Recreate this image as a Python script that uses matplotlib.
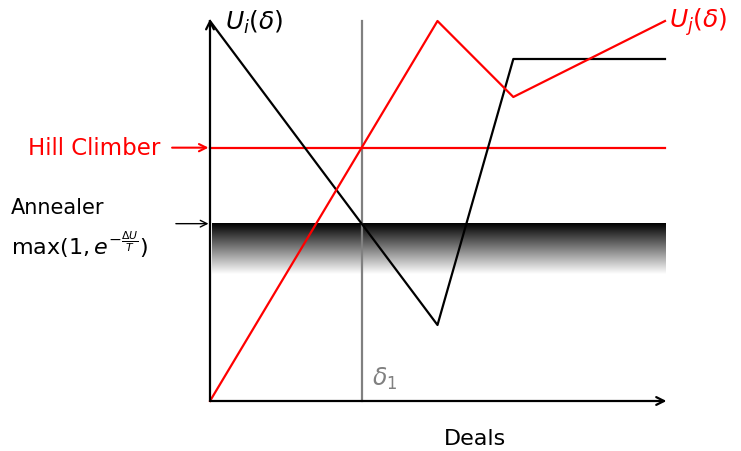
import numpy as np
import matplotlib.pyplot as plt

plt.rcParams['font.family'] = ['DejaVu Sans']
plt.rcParams['mathtext.fontset'] = 'dejavusans'

# utility curves over deals
x_i = [0, 3, 4, 6]
u_i = [10, 2, 9, 9]
x_j = [0, 3, 4, 6]
u_j = [0, 10, 8, 10]

delta1 = 2
hill_level = 20 / 3
anneal_top = 14 / 3
anneal_bottom = 3.34

fig = plt.figure(figsize=(7.41, 4.52), dpi=100)
ax = fig.add_axes([0, 0, 1, 1])
ux, uy = 75.83, 38.0
ax.set_xlim(-210 / ux, (741 - 210) / ux)
ax.set_ylim(-50 / uy, 402 / uy)
ax.axis('off')

# annealer acceptance band (black fading to white)
grad = np.linspace(0, 1, 256).reshape(-1, 1)
ax.imshow(grad, cmap='gray', aspect='auto', vmin=0, vmax=1,
          extent=[0.02, 6, anneal_bottom, anneal_top], origin='upper', zorder=1)

# axes arrows
arw = dict(arrowstyle='->', color='black', lw=1.6, mutation_scale=14, shrinkA=0, shrinkB=0)
ax.annotate('', xy=(6.02, 0), xytext=(0, 0), arrowprops=arw, zorder=5)
ax.annotate('', xy=(0, 10.05), xytext=(0, 0), arrowprops=arw, zorder=5)

lw = 1.6
ax.plot([delta1, delta1], [0, 10], color='#808080', lw=lw, zorder=2)
ax.plot([0, 6], [hill_level, hill_level], color='red', lw=lw, zorder=3)
ax.plot(x_i, u_i, color='black', lw=lw, zorder=4)
ax.plot(x_j, u_j, color='red', lw=lw, zorder=4)

ax.text(0.2, 10.0, r'$U_i(\delta)$', fontsize=18, ha='left', va='center')
ax.text(6.05, 10.0, r'$U_j(\delta)$', fontsize=18, ha='left', va='center', color='red')
ax.text(2.13, 0.6, r'$\delta_1$', fontsize=17, ha='left', va='center', color='#808080')
ax.text(3.49, -0.98, 'Deals', fontsize=16, ha='center', va='center')

ax.text(-0.65, hill_level, 'Hill Climber', fontsize=16.5, color='red', ha='right', va='center')
ax.annotate('', xy=(-0.02, hill_level), xytext=(-0.5, hill_level),
            arrowprops=dict(arrowstyle='->', color='red', lw=1.5, mutation_scale=13,
                            shrinkA=0, shrinkB=0))
ax.text(-2.63, 5.1, 'Annealer', fontsize=15, ha='left', va='center')
ax.text(-2.63, 4.15, r'max$(1, e^{-\frac{\Delta U}{T}})$', fontsize=16, ha='left', va='center')
ax.annotate('', xy=(-0.02, anneal_top), xytext=(-0.45, anneal_top),
            arrowprops=dict(arrowstyle='->', color='black', lw=1.0, mutation_scale=12,
                            shrinkA=0, shrinkB=0))

fig.savefig('out.png', dpi=100)
